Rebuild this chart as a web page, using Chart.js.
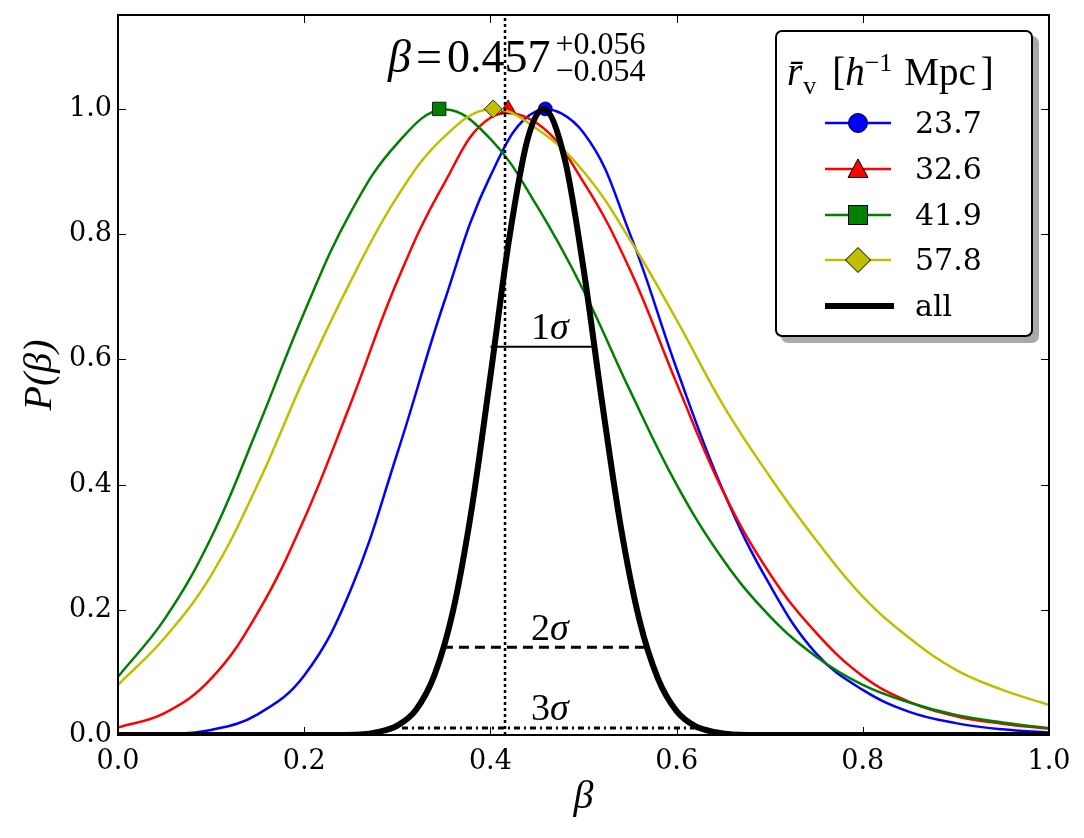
<!DOCTYPE html>
<html>
<head>
<meta charset="utf-8">
<script src="https://cdn.jsdelivr.net/npm/chart.js@4.4.1/dist/chart.umd.min.js"></script>
<style>
  body { margin: 0; background: #fff; }
  #wrap { position: relative; width: 1084px; height: 838px; }
  .math { position: absolute; white-space: nowrap; line-height: 1; color: #000;
          font-family: "Liberation Serif", "DejaVu Serif", serif; }
  #note { left: 388px; top: 30px; font-size: 46px; display: flex; align-items: center;
          font-family: "Liberation Serif", serif; }
  #note .eq { margin: 0 5px; }
  #note .stack { display: flex; flex-direction: column; font-size: 32px; line-height: 27px; margin-left: 5px; }
  .sig { font-size: 38px; transform: translateX(-50%); }
  #legend { position: absolute; left: 775px; top: 30px; width: 258px; height: 307px; box-sizing: border-box;
            border: 2px solid #000; border-radius: 7px; background: #fff; box-shadow: 6px 6px 0 #aaa; }
  #legend .ltitle { position: absolute; left: 10px; top: 21px; font-size: 39px; line-height: 38px;
                    font-family: "Liberation Serif", serif; white-space: nowrap; }
  .ltitle .lo { font-size: 26px; position: relative; top: 9px; margin-left: 1px; }
  .ltitle .hi { font-size: 26px; position: relative; top: -14px; }
  .lrow { position: absolute; left: 0; width: 100%; height: 40px; }
  .lrow svg { position: absolute; left: 48px; top: 0; }
  .lrow span { position: absolute; left: 138px; top: 0; line-height: 40px; font-size: 30px;
               font-family: "DejaVu Serif", serif; }
</style>
</head>
<body>
<div id="wrap">
  <canvas id="chart" width="1084" height="838"></canvas>
  <div id="note" class="math">
    <span><i>β</i><span class="eq">=</span>0.457</span>
    <span class="stack"><span>+0.056</span><span>−0.054</span></span>
  </div>
  <div id="legend">
    <div class="ltitle"><i>r&#772;</i><span class="lo">v</span><span style="margin-left:16px">[</span><i>h</i><span class="hi">−1</span><span style="margin-left:12px">Mpc</span><span style="margin-left:5px">]</span></div>
  </div>
</div>
<script>
// tick values
const xTicks = [0, 0.2, 0.4, 0.6, 0.8, 1.0];
const yTicks = [0, 0.2, 0.4, 0.6, 0.8, 1.0];

// mean void radius, one curve each
const legendLabels = ['23.7', '32.6', '41.9', '57.8', 'all'];

// beta grid shared by the four void samples
const betaGrid = [0.00, 0.05, 0.10, 0.15, 0.20, 0.25, 0.30, 0.35, 0.40, 0.45, 0.50, 0.55, 0.60, 0.65, 0.70, 0.75, 0.80, 0.85, 0.90, 0.95, 1.00];
const p237 = [0.000, 0.001, 0.008, 0.033, 0.095, 0.232, 0.450, 0.690, 0.893, 0.997, 0.962, 0.800, 0.585, 0.390, 0.240, 0.130, 0.072, 0.037, 0.019, 0.009, 0.004];
const p326 = [0.012, 0.035, 0.090, 0.195, 0.345, 0.530, 0.725, 0.880, 0.986, 0.977, 0.883, 0.743, 0.562, 0.389, 0.258, 0.163, 0.094, 0.053, 0.030, 0.018, 0.010];
const p419 = [0.093, 0.185, 0.315, 0.490, 0.675, 0.835, 0.945, 0.999, 0.952, 0.845, 0.710, 0.550, 0.400, 0.280, 0.190, 0.125, 0.080, 0.052, 0.032, 0.020, 0.011];
const p578 = [0.080, 0.155, 0.255, 0.400, 0.570, 0.725, 0.860, 0.955, 1.000, 0.968, 0.900, 0.791, 0.663, 0.527, 0.413, 0.311, 0.221, 0.155, 0.104, 0.072, 0.048];

// combined likelihood
const betaAll = [0.00, 0.20, 0.26, 0.28, 0.30, 0.32, 0.34, 0.36, 0.38, 0.40, 0.42, 0.44, 0.457, 0.48, 0.50, 0.52, 0.54, 0.56, 0.58, 0.60, 0.62, 0.64, 0.66, 0.70, 1.00];
const pAll = [0, 0, 0.001, 0.005, 0.015, 0.040, 0.096, 0.199, 0.362, 0.573, 0.791, 0.952, 1.000, 0.919, 0.745, 0.531, 0.333, 0.184, 0.090, 0.038, 0.014, 0.005, 0.001, 0, 0];

// peaks (marker positions)
const peakBeta = [0.459, 0.419, 0.345, 0.403];
const peakP = [1.0, 1.0, 1.0, 1.0];

// confidence levels
const sigmaLabels = ['1', '2', '3'];
const sigmaLevel = [0.62, 0.14, 0.011];
const sigmaLo = [0.400, 0.349, 0.305];
const sigmaHi = [0.512, 0.570, 0.626];
const sigmaLabelBeta = 0.464;
const vlineBeta = 0.4157;

const seriesY = [p237, p326, p419, p578];
const colors = ['#0000ff', '#ff0000', '#008000', '#bfbf00'];
const markers = ['circle', 'triangle', 'rect', 'rectRot'];
const markerSize = [7, 9, 9.5, 9];
const sigmaWidth = [2, 3, 3];
const sigmaDash = [[], [10, 6], [6, 4, 2, 4]];

function pts(xs, ys) {
  return xs.map((x, i) => ({ x: x, y: ys[i] }));
}

const datasets = [];
datasets.push({
  data: [{ x: vlineBeta, y: 0 }, { x: vlineBeta, y: 1.15 }],
  borderColor: '#000', borderWidth: 2.5, borderDash: [3, 3], pointRadius: 0, order: 0
});
sigmaLevel.forEach((lv, i) => {
  datasets.push({
    data: [{ x: sigmaLo[i], y: lv }, { x: sigmaHi[i], y: lv }],
    borderColor: '#000', borderWidth: sigmaWidth[i], borderDash: sigmaDash[i], pointRadius: 0, order: 1
  });
});
datasets.push({
  data: pts(betaAll, pAll),
  borderColor: '#000', borderWidth: 6, cubicInterpolationMode: 'monotone', pointRadius: 0, order: 2
});
seriesY.forEach((ys, i) => {
  const ord = 3 + (3 - i) * 2;
  datasets.push({
    data: [{ x: peakBeta[i], y: peakP[i] }],
    showLine: false, pointStyle: markers[i], pointRadius: markerSize[i],
    pointBackgroundColor: colors[i], pointBorderColor: '#000', pointBorderWidth: 0.8,
    order: ord
  });
  datasets.push({
    data: pts(betaGrid, ys),
    borderColor: colors[i], borderWidth: 2.5, tension: 0.4, pointRadius: 0,
    order: ord + 1
  });
});

// inward ticks on all four sides + frame
const framePlugin = {
  id: 'frame',
  afterDatasetsDraw(chart) {
    const { ctx, chartArea: a, scales: { x, y } } = chart;
    ctx.save();
    ctx.strokeStyle = '#000';
    ctx.lineWidth = 1;
    ctx.beginPath();
    xTicks.forEach(v => {
      const px = Math.round(x.getPixelForValue(v)) + 0.5;
      ctx.moveTo(px, a.bottom); ctx.lineTo(px, a.bottom - 8);
      ctx.moveTo(px, a.top); ctx.lineTo(px, a.top + 8);
    });
    yTicks.forEach(v => {
      const py = Math.round(y.getPixelForValue(v)) + 0.5;
      ctx.moveTo(a.left, py); ctx.lineTo(a.left + 8, py);
      ctx.moveTo(a.right, py); ctx.lineTo(a.right - 8, py);
    });
    ctx.stroke();
    ctx.lineWidth = 2;
    ctx.strokeRect(a.left, a.top, a.right - a.left, a.bottom - a.top);
    ctx.restore();
  }
};

const tickFont = { family: 'DejaVu Serif', size: 27 };
const chart = new Chart(document.getElementById('chart'), {
  type: 'line',
  data: { datasets: datasets },
  options: {
    responsive: false,
    animation: false,
    events: [],
    clip: 0,
    layout: { padding: { top: 15, right: 35, left: 0, bottom: 0 } },
    plugins: { legend: { display: false }, tooltip: { enabled: false } },
    elements: { line: { borderCapStyle: 'butt' } },
    scales: {
      x: {
        type: 'linear', min: 0, max: 1,
        afterFit: s => { s.height = 103; s.paddingLeft = 0; s.paddingRight = 0; },
        afterBuildTicks: s => { s.ticks = xTicks.map(v => ({ value: v })); },
        grid: { display: false, drawTicks: false },
        border: { display: false },
        ticks: { color: '#000', padding: 11, font: tickFont, maxRotation: 0, autoSkip: false,
                 callback: v => v.toFixed(1) },
        title: { display: true, text: 'β', color: '#000',
                 font: { family: 'Liberation Serif', size: 40, style: 'italic' },
                 padding: { top: 0, bottom: 17 } }
      },
      y: {
        type: 'linear', min: 0, max: 1.15,
        afterFit: s => { s.width = 118; s.paddingTop = 0; s.paddingBottom = 0; },
        afterBuildTicks: s => { s.ticks = yTicks.map(v => ({ value: v })); },
        grid: { display: false, drawTicks: false },
        border: { display: false },
        ticks: { color: '#000', padding: 6, font: tickFont, autoSkip: false,
                 callback: v => v.toFixed(1) },
        title: { display: true, text: 'P(β)', color: '#000',
                 font: { family: 'Liberation Serif', size: 40, style: 'italic' },
                 padding: { top: 16, bottom: 0 } }
      }
    }
  },
  plugins: [framePlugin]
});

// sigma labels
const wrap = document.getElementById('wrap');
sigmaLevel.forEach((lv, i) => {
  const el = document.createElement('div');
  el.className = 'math sig';
  el.innerHTML = sigmaLabels[i] + '<i>σ</i>';
  const cx = chart.scales.x.getPixelForValue(sigmaLabelBeta);
  const base = chart.scales.y.getPixelForValue(lv) - 8;
  el.style.left = cx + 'px';
  el.style.top = (base - 0.8375 * 38) + 'px';
  wrap.appendChild(el);
});

// legend
function swatch(color, marker) {
  let m = '';
  if (marker === 'circle') m = `<circle cx="33" cy="20" r="9.5"/>`;
  else if (marker === 'triangle') m = `<polygon points="33,10 43,28.5 23,28.5"/>`;
  else if (marker === 'rect') m = `<rect x="23.5" y="10.5" width="19" height="19"/>`;
  else m = `<polygon points="33,7.5 45.5,20 33,32.5 20.5,20"/>`;
  return `<svg width="68" height="40"><line x1="0" y1="20" x2="66" y2="20" stroke="${color}" stroke-width="2.5"/>` +
         `<g fill="${color}" stroke="#000" stroke-width="1">${m}</g></svg>`;
}
const legend = document.getElementById('legend');
legendLabels.forEach((lab, i) => {
  const row = document.createElement('div');
  row.className = 'lrow';
  row.style.top = (91 + i * 45.8 - 20) + 'px';
  const sw = i < 4 ? swatch(colors[i], markers[i])
    : `<svg width="72" height="40"><line x1="0" y1="20" x2="69" y2="20" stroke="#000" stroke-width="6"/></svg>`;
  row.innerHTML = sw + `<span>${lab}</span>`;
  legend.appendChild(row);
});
</script>
</body>
</html>
